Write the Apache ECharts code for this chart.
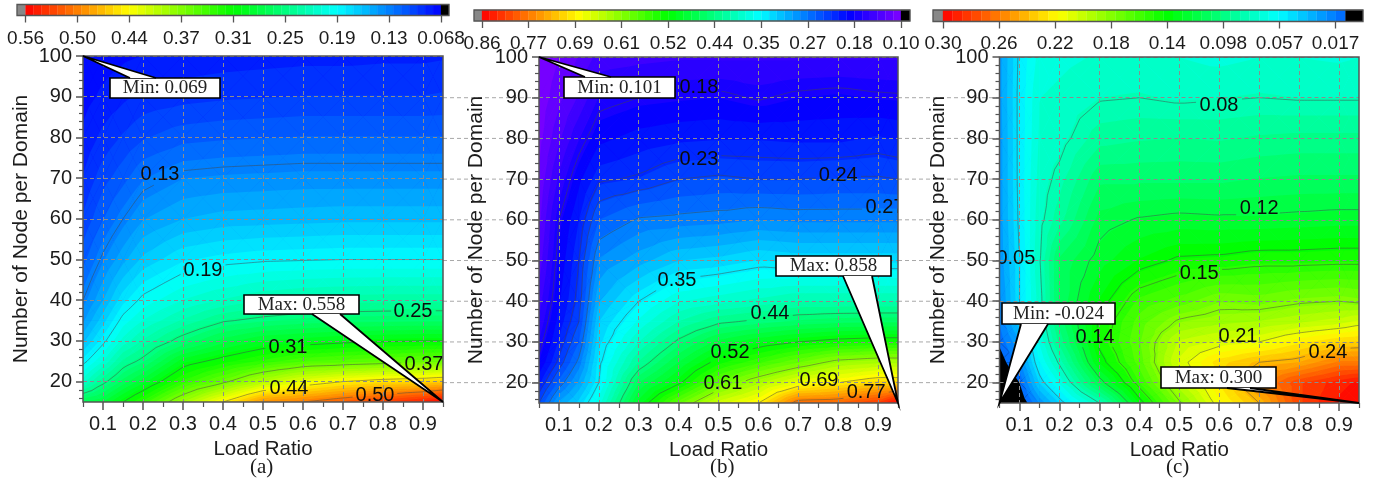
<!DOCTYPE html>
<html><head><meta charset="utf-8">
<style>html,body{margin:0;padding:0;background:#fff}#c{width:1381px;height:483px}</style>
<script src="https://cdn.jsdelivr.net/npm/echarts@6/dist/echarts.min.js"></script>
</head><body><div id="c"></div>
<script>
// ---------- data ----------
const loads=[0.05,0.1,0.15,0.2,0.3,0.4,0.5,0.6,0.7,0.8,0.9,0.95];
const nodes=[15,20,25,30,35,40,50,60,70,80,90,100];
// one inner list per load ratio, values listed by node count (15 ... 100)
const valuesA=[
[.275,.215,.185,.16,.142,.13,.112,.098,.088,.08,.074,.069],
[.285,.245,.21,.186,.168,.153,.133,.115,.102,.09,.08,.073],
[.31,.27,.24,.213,.195,.178,.15,.13,.112,.098,.085,.076],
[.335,.29,.255,.23,.21,.194,.165,.143,.124,.105,.09,.078],
[.39,.335,.30,.258,.23,.21,.18,.153,.134,.112,.093,.08],
[.44,.365,.318,.28,.248,.22,.185,.157,.136,.114,.095,.082],
[.49,.40,.335,.295,.255,.228,.188,.158,.137,.115,.096,.083],
[.50,.425,.35,.30,.26,.232,.189,.159,.138,.116,.097,.084],
[.515,.44,.355,.305,.262,.234,.19,.16,.138,.116,.097,.084],
[.53,.45,.36,.308,.263,.235,.19,.16,.138,.116,.097,.085],
[.545,.455,.365,.31,.264,.235,.19,.16,.138,.116,.097,.085],
[.558,.46,.365,.31,.264,.235,.19,.16,.138,.116,.098,.086]];
const valuesB=[
[.24,.21,.185,.172,.16,.15,.135,.125,.117,.11,.105,.101],
[.30,.26,.23,.215,.205,.197,.188,.18,.16,.14,.125,.115],
[.33,.30,.275,.255,.24,.232,.225,.213,.195,.17,.145,.13],
[.375,.35,.345,.335,.325,.31,.285,.255,.222,.195,.172,.148],
[.50,.465,.425,.395,.37,.35,.305,.272,.228,.205,.18,.152],
[.585,.515,.48,.445,.41,.38,.325,.275,.24,.21,.183,.155],
[.655,.585,.53,.485,.435,.39,.33,.278,.243,.212,.185,.155],
[.69,.63,.56,.505,.445,.40,.34,.283,.24,.212,.178,.155],
[.785,.67,.59,.52,.455,.41,.335,.28,.24,.21,.185,.155],
[.79,.69,.62,.53,.46,.41,.335,.28,.242,.21,.188,.155],
[.82,.71,.63,.535,.462,.41,.335,.28,.242,.215,.184,.155],
[.858,.71,.63,.535,.462,.41,.335,.28,.24,.212,.183,.155]];
const valuesC=[
[-.024,-.005,.004,.012,.018,.022,.026,.027,.027,.027,.028,.028],
[0,.01,.022,.03,.042,.05,.05,.052,.053,.053,.053,.052],
[.025,.045,.058,.066,.072,.076,.079,.077,.075,.073,.072,.068],
[.045,.066,.082,.095,.102,.108,.108,.09,.083,.076,.074,.07],
[.08,.115,.135,.143,.142,.135,.124,.116,.105,.09,.079,.073],
[.135,.155,.165,.168,.165,.157,.135,.121,.105,.092,.08,.072],
[.178,.195,.205,.198,.182,.165,.142,.123,.105,.093,.078,.072],
[.215,.225,.228,.205,.187,.175,.143,.122,.105,.092,.079,.07],
[.24,.255,.24,.21,.19,.173,.146,.122,.107,.094,.08,.072],
[.278,.278,.245,.222,.195,.178,.146,.123,.108,.095,.079,.072],
[.295,.29,.26,.23,.20,.18,.147,.124,.108,.095,.079,.071],
[.30,.295,.26,.232,.205,.178,.147,.124,.108,.095,.079,.072]];
const linesA=[.13,.19,.25,.31,.37,.44,.50];
const linesB=[.18,.225,.24,.27,.35,.44,.52,.61,.69,.77];
const linesC=[.05,.08,.12,.14,.15,.18,.21,.24];
const contourLabelsA=[["0.13",.2425,70.8],["0.19",.35,47.4],["0.25",.875,37.3],["0.31",.5625,28.5],["0.37",.9025,24.1],["0.44",.565,18.2],["0.50",.78,16.7]];
const contourLabelsB=[["0.18",.451,92.6],["0.23",.451,74.9],["0.24",.8,70.8],["0.27",.9175,63.1],["0.35",.396,45.2],["0.44",.629,36.9],["0.52",.529,27.3],["0.61",.511,19.9],["0.69",.752,20.6],["0.77",.87,17.7]];
const contourLabelsC=[["0.08",.5995,88],["0.12",.7,62.9],["0.05",.091,50.6],["0.15",.55,46.7],["0.14",.289,31],["0.21",.647,31.4],["0.24",.872,27.5]];
const barTicksA=[.558,.4968,.4356,.3744,.3132,.252,.1908,.1296,.0684];
const barLabelsA=["0.56","0.50","0.44","0.37","0.31","0.25","0.19","0.13","0.068"];
const barTicksB=[.858,.7739,.6898,.6057,.5216,.4375,.3534,.2693,.1852,.101];
const barLabelsB=["0.86","0.77","0.69","0.61","0.52","0.44","0.35","0.27","0.18","0.10"];
const barTicksC=[.30,.2596,.2192,.1788,.1384,.098,.0576,.0172];
const barLabelsC=["0.30","0.26","0.22","0.18","0.14","0.098","0.057","0.017"];
const majorLoads=[.1,.2,.3,.4,.5,.6,.7,.8,.9];
const minorLoads=[.05,.15,.25,.35,.45,.55,.65,.75,.85,.95];
const majorNodes=[20,30,40,50,60,70,80,90,100];
const minorNodes=[16,18,22,24,26,28,32,34,36,38,42,44,46,48,52,54,56,58,62,64,66,68,72,74,76,78,82,84,86,88,92,94,96,98];
const captions=["(a)","(b)","(c)"];
const calloutText=[["Min: 0.069","Max: 0.558"],["Min: 0.101","Max: 0.858"],["Min: -0.024","Max: 0.300"]];
const calloutTips=[[[.05,100],[.95,15]],[[.05,100],[.95,15]],[[.05,15],[.95,15]]];

// ---------- colours and layout ----------
const RED='#ff0000',YEL='#ffff00',GRN='#00ff00',CYN='#00ffff',BLU='#0000ff';
const panels=[
 {values:valuesA,lines:linesA,labels:contourLabelsA,ticks:barTicksA,barLabels:barLabelsA,
  grid:{left:83,top:56,width:360,height:346},bar:{left:17,top:4.5,width:432,height:11},barMin:.059,barMax:.5681,
  vmax:.558,vlow:.0684,count:52,lowest:null,
  stops:[[0,RED],[.25,YEL],[.5,GRN],[.75,CYN],[1,BLU]],
  boxes:[[110,78,110,20,130,156],[244,295,115,19,312,340]],ext:null,captionX:262,nameGap:51},
 {values:valuesB,lines:linesB,labels:contourLabelsB,ticks:barTicksB,barLabels:barLabelsB,
  grid:{left:539,top:57,width:359,height:346},bar:{left:474,top:10,width:436,height:11},barMin:.0847,barMax:.8725,
  vmax:.858,vlow:.101,count:54,lowest:null,
  stops:[[0,RED],[.233,YEL],[.443,GRN],[.662,CYN],[.876,BLU],[1,'#8000ff']],
  boxes:[[564,77,111,21,585,611],[776,256,115,20,843,872]],ext:443,captionX:722,nameGap:52},
 {values:valuesC,lines:linesC,labels:contourLabelsC,ticks:barTicksC,barLabels:barLabelsC,
  grid:{left:999.5,top:57,width:359.5,height:346},bar:{left:933,top:10,width:430,height:11.5},barMin:-.0026,barMax:.3072,
  vmax:.30,vlow:.01,count:42,lowest:'#000000',
  stops:[[0,RED],[.286,YEL],[.557,GRN],[.833,CYN],[1,'#0064ff']],
  boxes:[[1002,303,113,21,1021,1048],[1161,367,115,21,1227,1250]],ext:898,captionX:1178,nameGap:51}
];
const SANS='"Liberation Sans",Arial,sans-serif',SERIF='"Liberation Serif","Times New Roman",serif';
const TXT='#1c1c1c',FRAME='#555555',GRIDC='#8c8c8c';

function hex(c){return [1,3,5].map(i=>parseInt(c.substr(i,2),16));}
function colourAt(p,f){
  const s=p.stops;
  for(let i=1;i<s.length;i++){ if(f<=s[i][0]){
    const t=(f-s[i-1][0])/(s[i][0]-s[i-1][0]),a=hex(s[i-1][1]),b=hex(s[i][1]);
    return 'rgb('+a.map((x,k)=>Math.round(x+(b[k]-x)*t)).join(',')+')';}}
  return s[s.length-1][1];
}
function bandsOf(p){
  const out=[],step=(p.vmax-p.vlow)/p.count;
  for(let k=0;k<p.count;k++){
    const hi=p.vmax-k*step,lo=hi-step;
    out.push({lo:(k==p.count-1&&!p.lowest)?-9:lo,top:hi,bot:lo,color:colourAt(p,(k+.5)/p.count)});
  }
  if(p.lowest) out.push({lo:-9,top:p.vlow,bot:p.vlow,color:p.lowest});
  return out;
}
function clipAbove(poly,l){
  const out=[];
  for(let i=0;i<poly.length;i++){
    const a=poly[i],b=poly[(i+1)%poly.length],ia=a[2]>=l,ib=b[2]>=l;
    if(ia) out.push(a);
    if(ia!==ib){const t=(l-a[2])/(b[2]-a[2]);out.push([a[0]+(b[0]-a[0])*t,a[1]+(b[1]-a[1])*t,l]);}
  }
  return out;
}
function trianglesOf(vals){
  const out=[];
  const P=(a,b)=>[loads[a],nodes[b],vals[a][b]];
  for(let i=0;i<loads.length-1;i++)for(let j=0;j<nodes.length-1;j++){
    const q=[P(i,j),P(i+1,j),P(i+1,j+1),P(i,j+1)];
    const c=[0,1,2].map(k=>q.reduce((s,r)=>s+r[k],0)/4);
    for(let k=0;k<4;k++) out.push([q[k],q[(k+1)%4],c]);
  }
  return out;
}

const xAxis=[],yAxis=[],grid=[],series=[];
const axisBase={type:'value',silent:true,z:3};
panels.forEach((p,n)=>{
  grid.push(Object.assign({containLabel:false},p.grid));
  const bands=bandsOf(p),tris=trianglesOf(p.values);
  // major and minor axes
  xAxis.push(Object.assign({},axisBase,{gridIndex:n,position:'bottom',min:.05,max:.95,name:'Load Ratio',nameLocation:'middle',nameGap:33,
    nameTextStyle:{fontFamily:SANS,fontSize:20.5,color:TXT},
    axisLine:{show:false,onZero:false},axisTick:{show:true,length:8,customValues:majorLoads,lineStyle:{color:FRAME,width:1.5}},
    axisLabel:{customValues:majorLoads,margin:12,fontFamily:SANS,fontSize:20,color:TXT,formatter:v=>v.toFixed(1)},
    splitLine:{show:true,lineStyle:{color:GRIDC,type:[4,3],width:1}}}));
  yAxis.push(Object.assign({},axisBase,{gridIndex:n,position:'left',min:15,max:100,name:'Number of Node per Domain',nameLocation:'middle',nameGap:p.nameGap,
    nameTextStyle:{fontFamily:SANS,fontSize:21,color:TXT},
    axisLine:{show:false,onZero:false},axisTick:{show:true,length:7,customValues:majorNodes,lineStyle:{color:FRAME,width:1.5}},
    axisLabel:{customValues:majorNodes,margin:11,fontFamily:SANS,fontSize:20,color:TXT},
    splitLine:{show:true,lineStyle:{color:GRIDC,type:[4,3],width:1}}}));
  xAxis.push(Object.assign({},axisBase,{gridIndex:n,position:'bottom',min:.05,max:.95,axisLine:{show:false,onZero:false},
    axisTick:{show:true,length:5,customValues:minorLoads,lineStyle:{color:FRAME,width:1.2}},axisLabel:{show:false},splitLine:{show:false}}));
  yAxis.push(Object.assign({},axisBase,{gridIndex:n,position:'left',min:15,max:100,axisLine:{show:false,onZero:false},
    axisTick:{show:true,length:4,customValues:minorNodes,lineStyle:{color:FRAME,width:1.2}},axisLabel:{show:false},splitLine:{show:false}}));
  const xi=n*2,yi=n*2;
  // filled contour bands: painted from the lowest level upward, each layer covering all values above its floor
  const layers=bands.slice().reverse();
  series.push({type:'custom',xAxisIndex:xi,yAxisIndex:yi,z:2,clip:true,silent:true,animation:false,
    data:layers.map(b=>[.05,15]),
    renderItem(params,api){
      const b=layers[params.dataIndex],children=[];
      if(params.dataIndex==0){
        const cs=params.coordSys;
        children.push({type:'rect',shape:{x:cs.x,y:cs.y,width:cs.width,height:cs.height},style:{fill:b.color}});
      }
      tris.forEach(tri=>{
        if(Math.max(tri[0][2],tri[1][2],tri[2][2])<b.lo) return;
        const poly=clipAbove(tri,b.lo);
        if(poly.length<3) return;
        children.push({type:'polygon',shape:{points:poly.map(q=>api.coord([q[0],q[1]]))},style:{fill:b.color}});
      });
      return {type:'group',children};
    }});
  // contour lines, broken around their labels
  series.push({type:'custom',xAxisIndex:xi,yAxisIndex:yi,z:2,clip:true,silent:true,animation:false,
    data:p.lines.map(l=>[.05,15]),
    renderItem(params,api){
      const l=p.lines[params.dataIndex]+1e-7,children=[];
      const boxes=p.labels.map(q=>api.coord([q[1],q[2]]));
      tris.forEach(tri=>{
        const pts=[];
        for(let k=0;k<3;k++){
          const a=tri[k],b=tri[(k+1)%3];
          if((a[2]-l)*(b[2]-l)<0){const t=(l-a[2])/(b[2]-a[2]);pts.push(api.coord([a[0]+(b[0]-a[0])*t,a[1]+(b[1]-a[1])*t]));}
        }
        if(pts.length<2) return;
        const len=Math.hypot(pts[1][0]-pts[0][0],pts[1][1]-pts[0][1]),m=Math.max(1,Math.ceil(len/3));
        for(let s=0;s<m;s++){
          const x1=pts[0][0]+(pts[1][0]-pts[0][0])*s/m,y1=pts[0][1]+(pts[1][1]-pts[0][1])*s/m;
          const x2=pts[0][0]+(pts[1][0]-pts[0][0])*(s+1)/m,y2=pts[0][1]+(pts[1][1]-pts[0][1])*(s+1)/m;
          const mx=(x1+x2)/2,my=(y1+y2)/2;
          if(boxes.some(q=>Math.abs(q[0]-mx)<22&&Math.abs(q[1]-my)<10)) continue;
          children.push({type:'line',shape:{x1,y1,x2,y2},style:{stroke:'rgba(70,70,70,.55)',lineWidth:.9}});
        }
      });
      return {type:'group',children};
    }});
  // contour labels, cut off by the plot edge as in the source
  series.push({type:'custom',xAxisIndex:xi,yAxisIndex:yi,z:4,clip:true,silent:true,animation:false,
    data:p.labels.map(l=>[l[1],l[2]]),
    renderItem(params,api){
      const q=api.coord([api.value(0),api.value(1)]);
      return {type:'text',x:q[0],y:q[1],style:{text:p.labels[params.dataIndex][0],fill:'#0c0c0c',font:'20px '+SANS,align:'center',verticalAlign:'middle'}};
    }});
  // dashed node lines carried over the margin to the previous panel
  if(p.ext!==null) series.push({type:'custom',xAxisIndex:xi,yAxisIndex:yi,z:1,clip:false,silent:true,animation:false,
    data:majorNodes.slice(0,-1).map(v=>[.05,v]),
    renderItem(params,api){
      const q=api.coord([api.value(0),api.value(1)]);
      return {type:'line',shape:{x1:p.ext,y1:q[1],x2:q[0],y2:q[1]},style:{stroke:'#a8a8a8',lineWidth:1,lineDash:[4,3]}};
    }});
  // plot frame and Min/Max callouts
  series.push({type:'custom',xAxisIndex:xi,yAxisIndex:yi,z:6,clip:false,silent:true,animation:false,
    data:calloutTips[n],
    renderItem(params,api){
      const k=params.dataIndex,cs=params.coordSys,tip=api.coord([api.value(0),api.value(1)]),b=p.boxes[k],children=[];
      if(k==0) children.push({type:'rect',shape:{x:cs.x,y:cs.y,width:cs.width,height:cs.height},style:{fill:'none',stroke:FRAME,lineWidth:1.5}});
      const base=tip[1]>b[1]+b[3]?b[1]+b[3]:b[1];
      children.push({type:'rect',shape:{x:b[0],y:b[1],width:b[2],height:b[3]},style:{fill:'#fff',stroke:'#000',lineWidth:1.6}});
      children.push({type:'polygon',shape:{points:[tip,[b[5],base],[b[4],base]]},style:{fill:'#fff'}});
      children.push({type:'polyline',shape:{points:[[b[5],base],tip,[b[4],base]]},style:{fill:'none',stroke:'#000',lineWidth:1.8}});
      children.push({type:'text',x:b[0]+b[2]/2,y:b[1]+b[3]/2+.5,style:{text:calloutText[n][k],fill:'#222',font:'19px '+SERIF,align:'center',verticalAlign:'middle'}});
      return {type:'group',children};
    }});
});
// colour bars
panels.forEach((p,n)=>{
  const g=3+n,ax=6+n,bands=bandsOf(p);
  grid.push(Object.assign({},p.bar));
  const cellsBar=[[p.barMax,p.vmax,'#888888']].concat(bands.map(b=>[b.top,b.bot,b.color]).filter(c=>c[0]>c[1]));
  cellsBar.push([p.vlow,p.barMin,'#000000']);
  xAxis.push({type:'value',silent:true,z:3,gridIndex:g,inverse:true,position:'bottom',min:p.barMin,max:p.barMax,
    axisLine:{show:false,onZero:false},axisTick:{show:true,length:7,customValues:p.ticks,lineStyle:{color:FRAME,width:1.3}},
    axisLabel:{customValues:p.ticks,margin:n==0?14:13,fontFamily:SANS,fontSize:19,color:TXT,hideOverlap:false,
      formatter:v=>p.barLabels[p.ticks.indexOf(v)]},splitLine:{show:false}});
  yAxis.push({type:'value',silent:true,gridIndex:g,min:0,max:1,show:false});
  series.push({type:'custom',xAxisIndex:ax,yAxisIndex:ax,z:2,clip:false,silent:true,animation:false,
    data:cellsBar.map(c=>[c[0],c[1]]),
    renderItem(params,api){
      const a=api.coord([api.value(0),1]),b=api.coord([api.value(1),0]),col=cellsBar[params.dataIndex][2],cs=params.coordSys;
      const children=[{type:'rect',shape:{x:a[0],y:a[1],width:b[0]-a[0],height:b[1]-a[1]},style:{fill:col,stroke:col,lineWidth:.3}}];
      if(params.dataIndex==cellsBar.length-1) children.push({type:'rect',z2:5,shape:{x:cs.x,y:cs.y,width:cs.width,height:cs.height},style:{fill:'none',stroke:FRAME,lineWidth:1.3}});
      return {type:'group',children};
    }});
});
const chart=echarts.init(document.getElementById('c'),null,{renderer:'canvas'});
chart.setOption({animation:false,backgroundColor:'#fff',grid,xAxis,yAxis,series,
  graphic:captions.map((t,i)=>({type:'text',left:panels[i].captionX-12,top:457,style:{text:t,fill:TXT,font:'21px '+SERIF}}))});
</script></body></html>
